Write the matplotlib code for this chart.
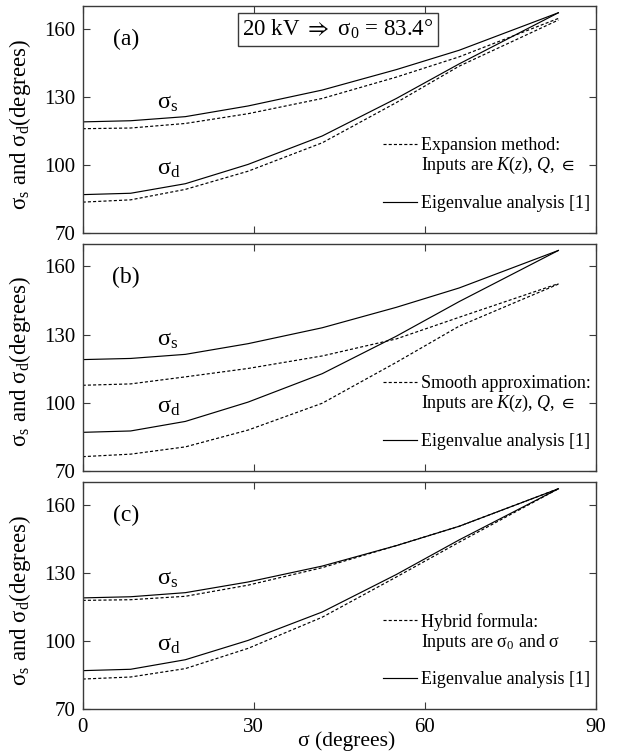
import matplotlib
matplotlib.use("Agg")
import matplotlib.pyplot as plt
from matplotlib.lines import Line2D

plt.rcParams['font.family'] = ['Liberation Serif', 'DejaVu Serif']
plt.rcParams['mathtext.fontset'] = 'custom'
plt.rcParams['mathtext.rm'] = 'Liberation Serif'
plt.rcParams['mathtext.it'] = 'Liberation Serif:italic'
plt.rcParams['mathtext.bf'] = 'Liberation Serif:bold'
plt.rcParams['mathtext.default'] = 'regular'
plt.rcParams['mathtext.fallback'] = 'stix'

# ---- data ----
sigma = [0, 8.4, 18, 29, 42, 55, 66, 83.4]
eig_s = [119.0, 119.5, 121.3, 126.0, 133.0, 142.0, 150.5, 167.0]
eig_d = [87.0, 87.6, 91.8, 100.3, 112.8, 129.3, 144.5, 167.0]
exp_s = [116.0, 116.3, 118.3, 122.6, 129.3, 138.7, 147.6, 164.5]
exp_d = [83.7, 84.7, 89.3, 97.3, 109.8, 127.5, 143.5, 163.8]
smo_s = [107.7, 108.3, 111.4, 115.1, 120.6, 128.1, 137.6, 152.4]
smo_d = [76.3, 77.4, 80.6, 88.0, 99.8, 117.8, 133.7, 152.2]
hyb_s = [117.9, 118.2, 119.7, 124.6, 132.3, 142.0, 150.5, 167.0]
hyb_d = [83.3, 84.2, 87.9, 96.8, 110.5, 128.2, 143.5, 167.0]

xticks = [0, 30, 60, 90]
yticks = [70, 100, 130, 160]
panel_tags = ['(a)', '(b)', '(c)']
method_l1 = ['Expansion method:', 'Smooth approximation:', 'Hybrid formula:']
method_l2 = [r'Inputs are $\mathit{K}(\mathit{z})$, $\mathit{Q}$, $\in$',
             r'Inputs are $\mathit{K}(\mathit{z})$, $\mathit{Q}$, $\in$',
             'Inputs are σ$_0$ and σ']
eig_label = 'Eigenvalue analysis [1]'
approx_s = [exp_s, smo_s, hyb_s]
approx_d = [exp_d, smo_d, hyb_d]

fig = plt.figure(figsize=(6.18, 7.52), dpi=100)
left, width, height = 0.1338, 0.8306, 0.3023
bottoms = [0.6898, 0.3737, 0.0568]

dash = (0, (2.6, 1.8))
spine_col = '#3a3a3a'

for i in range(3):
    ax = fig.add_axes([left, bottoms[i], width, height])
    l_eig, = ax.plot(sigma, eig_s, color='black', lw=0.85)
    ax.plot(sigma, eig_d, color='black', lw=0.85)
    l_app, = ax.plot(sigma, approx_s[i], color='black', lw=0.85, linestyle=dash)
    ax.plot(sigma, approx_d[i], color='black', lw=0.85, linestyle=dash)

    ax.set_xlim(0, 90)
    ax.set_ylim(70, 170)
    ax.set_xticks(xticks)
    ax.set_yticks(yticks)
    ax.tick_params(direction='in', length=5, width=0.8, color=spine_col,
                   top=True, right=True, labelsize=15, pad=5)
    ax.tick_params(axis='x', pad=6)
    if i < 2:
        ax.set_xticklabels([])
    for s in ax.spines.values():
        s.set_color(spine_col)
        s.set_linewidth(1.0)

    ax.set_ylabel('σ$_\\mathregular{s}$ and σ$_\\mathregular{d}$(degrees)', fontsize=16.5)
    ax.yaxis.set_label_coords(-0.097, 0.48)

    ax.text(0.084, 0.853, panel_tags[i], transform=ax.transAxes,
            fontsize=17, ha='center', va='center')
    ax.text(13.0, 125.0, 'σ$_\\mathregular{s}$', fontsize=17.5, ha='left', va='baseline')
    ax.text(13.0, 95.7, 'σ$_\\mathregular{d}$', fontsize=17.5, ha='left', va='baseline')

    blank = Line2D([], [], color='none')
    leg1 = ax.legend([l_app, blank], [method_l1[i], method_l2[i]],
                     loc='center left', bbox_to_anchor=(0.585, 0.337),
                     frameon=False, fontsize=13, handlelength=1.9,
                     handletextpad=0.2, labelspacing=0.05, borderpad=0,
                     borderaxespad=0)
    ax.add_artist(leg1)
    ax.legend([l_eig], [eig_label], loc='center left',
              bbox_to_anchor=(0.585, 0.13), frameon=False, fontsize=13,
              handlelength=1.9, handletextpad=0.2, borderpad=0,
              borderaxespad=0)

    if i == 0:
        ax.text(0.497, 0.896, r'20 kV $\Rightarrow$ σ$_0$ = 83.4°',
                transform=ax.transAxes, fontsize=16.5, ha='center', va='center',
                bbox=dict(boxstyle='square,pad=0.2', fc='white',
                          ec=spine_col, lw=1.0))
    if i == 2:
        ax.set_xlabel('σ (degrees)', fontsize=15.5, labelpad=0)
        ax.xaxis.set_label_coords(0.515, -0.095)

fig.savefig('out.png', dpi=100)
